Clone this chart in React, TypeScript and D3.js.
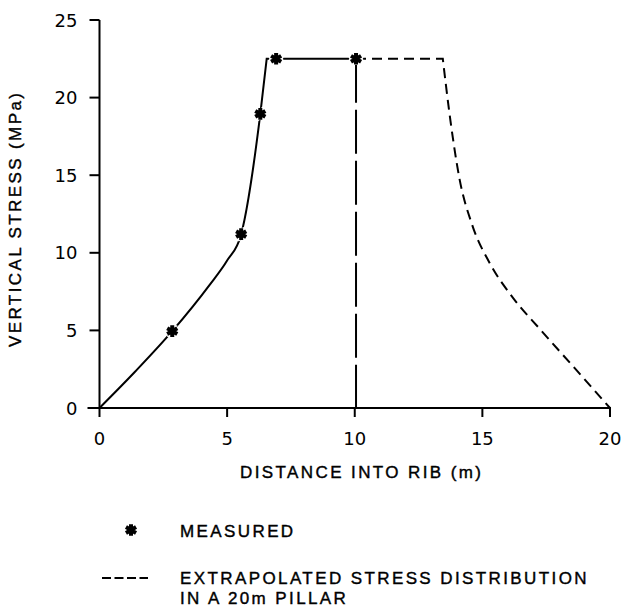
import React from "react";
import * as d3 from "d3";

// measured points (distance m, stress MPa)
const measuredX = [2.85, 5.55, 6.3, 6.92, 10.05];
const measuredY = [4.95, 11.2, 18.95, 22.5, 22.5];

// solid curve through the measurements, then the flat top
const risingX = [0, 1.4, 2.85, 4.3, 5.0, 5.55, 6.3, 6.55];
const risingY = [0, 2.35, 4.95, 7.9, 9.5, 11.2, 18.95, 22.5];
const topX = [6.55, 10.05];
const topY = [22.5, 22.5];

// extrapolated distribution (dashed)
const flatX = [10.05, 13.45];
const flatY = [22.5, 22.5];
const fallX = [13.45, 13.75, 14.1, 14.6, 15.3, 16.2, 17.3, 18.6, 20];
const fallY = [22.5, 18.5, 14.8, 11.8, 9.3, 7.1, 5.0, 2.6, 0];

// vertical pillar centre line
const centreX = [10.05, 10.05];
const centreY = [22.5, 0];

const xTicks = [0, 5, 10, 15, 20];
const yTicks = [0, 5, 10, 15, 20, 25];

const width = 637;
const height = 608;

const App = () => {
  const x = d3.scaleLinear().domain([0, 20]).range([99.5, 610]);
  const y = d3.scaleLinear().domain([0, 25]).range([408, 20]);

  const toPts = (xs: number[], ys: number[]) =>
    xs.map((v, i) => [v, ys[i]] as [number, number]);
  const curve = d3
    .line<[number, number]>()
    .x((d) => x(d[0]))
    .y((d) => y(d[1]))
    .curve(d3.curveMonotoneX);
  const straight = d3
    .line<[number, number]>()
    .x((d) => x(d[0]))
    .y((d) => y(d[1]));

  const star = d3.symbol().type(d3.symbolAsterisk).size(95)() || "";
  const tickFont = "'DejaVu Sans', sans-serif";
  const labelFont = "'Liberation Sans', Arial, sans-serif";
  const labelStyle = { letterSpacing: "2.4px" };

  const solidD =
    (curve(toPts(risingX, risingY)) || "") +
    (straight(toPts(topX, topY)) || "").replace(/^M/, "L");
  const dashD =
    (straight(toPts(flatX, flatY)) || "") +
    (curve(toPts(fallX, fallY)) || "").replace(/^M/, "L");

  return (
    <svg
      width={width}
      height={height}
      style={{ position: "absolute", left: 0, top: 0, background: "#fff" }}
    >
      {/* axes */}
      <g stroke="#000" strokeWidth={2} fill="none">
        <line x1={x(0)} x2={x(0)} y1={y(25)} y2={y(0)} />
        <line x1={x(0) - 12} x2={x(20) + 1} y1={y(0)} y2={y(0)} />
        {yTicks.map((t) => (
          <line key={"yt" + t} x1={x(0) - 10} x2={x(0)} y1={y(t)} y2={y(t)} />
        ))}
        {xTicks.map((t) => (
          <line key={"xt" + t} x1={x(t)} x2={x(t)} y1={y(0)} y2={y(0) + 9} />
        ))}
      </g>
      <g fontFamily={tickFont} fontSize={18} fill="#000">
        {yTicks.map((t) => (
          <text key={"yl" + t} x={x(0) - 22} y={y(t) + 6.5} textAnchor="end">
            {t}
          </text>
        ))}
        {xTicks.map((t) => (
          <text key={"xl" + t} x={x(t)} y={y(0) + 37} textAnchor="middle">
            {t}
          </text>
        ))}
      </g>

      {/* lines */}
      <path d={solidD} fill="none" stroke="#000" strokeWidth={2} />
      <path
        d={dashD}
        fill="none"
        stroke="#000"
        strokeWidth={2}
        strokeDasharray="10 6"
      />
      <path
        d={straight(toPts(centreX, centreY)) || ""}
        fill="none"
        stroke="#000"
        strokeWidth={2}
        strokeDasharray="44 7"
      />

      {/* measured points */}
      {measuredX.map((v, i) => (
        <g key={"m" + i} transform={`translate(${x(v)},${y(measuredY[i])})`}>
          <path d={star} stroke="#fff" strokeWidth={10} fill="none" />
          <path d={star} stroke="#000" strokeWidth={4} fill="none" />
        </g>
      ))}

      {/* titles and legend */}
      <g
        fontFamily={labelFont}
        fontSize={17}
        fill="#000"
        stroke="#000"
        strokeWidth={0.4}
        style={labelStyle}
      >
        <text x={240} y={478}>
          DISTANCE INTO RIB (m)
        </text>
        <text transform="translate(21,347) rotate(-90)">
          VERTICAL STRESS (MPa)
        </text>
        <text x={180} y={537}>
          MEASURED
        </text>
        <text x={180} y={584}>
          EXTRAPOLATED STRESS DISTRIBUTION
        </text>
        <text x={180} y={604}>
          IN A 20m PILLAR
        </text>
      </g>
      <g transform="translate(131,530)">
        <path d={star} stroke="#000" strokeWidth={4} fill="none" />
      </g>
      <line
        x1={102}
        x2={148}
        y1={578}
        y2={578}
        stroke="#000"
        strokeWidth={2}
        strokeDasharray="9 3.5"
      />
    </svg>
  );
};

export default App;
